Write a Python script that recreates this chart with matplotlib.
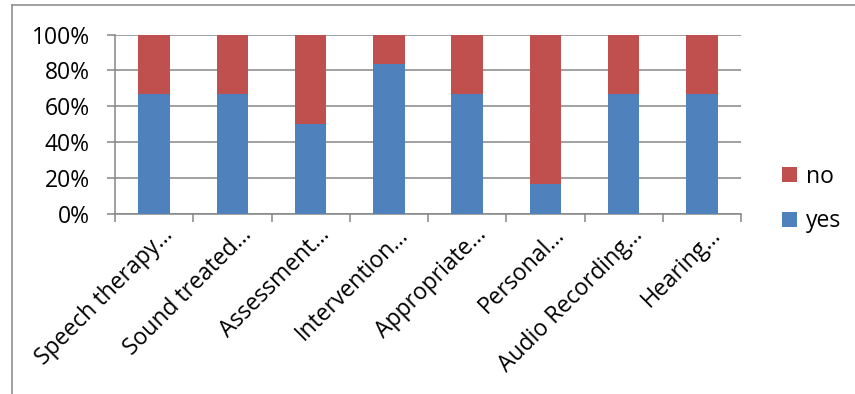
import numpy as np
import matplotlib.pyplot as plt
import matplotlib.transforms as mtransforms
from matplotlib.lines import Line2D

plt.rcParams['font.family'] = ['Open Sans', 'DejaVu Sans']

# survey answers per item (6 respondents)
categories = ["Speech therapy…", "Sound treated…", "Assessment…", "Intervention…",
              "Appropriate…", "Personal…", "Audio Recording…", "Hearing…"]
yes_counts = [4, 4, 3, 5, 4, 1, 4, 4]
no_counts = [2, 2, 3, 1, 2, 5, 2, 2]

yes_counts = np.array(yes_counts, dtype=float)
no_counts = np.array(no_counts, dtype=float)
total = yes_counts + no_counts
yes_pct = yes_counts / total * 100
no_pct = no_counts / total * 100

blue = "#4F81BD"
red = "#C0504D"
grid_gray = "#868686"
fs = 16.5

fig = plt.figure(figsize=(8.55, 3.94), dpi=100)
ax = fig.add_axes([0.1345, 0.4569, 0.7322, 0.4555])

x = np.arange(len(categories))
b_yes = ax.bar(x, yes_pct, width=0.4, color=blue, zorder=3)
b_no = ax.bar(x, no_pct, width=0.4, bottom=yes_pct, color=red, zorder=3)

ax.set_xlim(-0.5, len(categories) - 0.5)
ax.set_ylim(0, 100)

# y axis: percent ticks with gridlines
ax.set_yticks(np.arange(0, 101, 20))
ax.set_yticklabels([f"{v}%" for v in range(0, 101, 20)], fontsize=fs)
ax.yaxis.grid(True, color=grid_gray, linewidth=1.1, zorder=0)
ax.tick_params(axis='y', length=6, width=1.1, color=grid_gray, pad=12)

# x axis: labels at centres, tick marks between categories
ax.set_xticks(x)
ax.set_xticklabels(categories, fontsize=fs, rotation=45, ha='right',
                   rotation_mode='anchor')
ax.tick_params(axis='x', which='major', length=0, pad=8)
ax.set_xticks(np.arange(-0.5, len(categories)), minor=True)
ax.tick_params(axis='x', which='minor', length=6, width=1.1, color=grid_gray)

# nudge the slanted labels right so they end past the category centre
shift = mtransforms.ScaledTranslation(7 / 100, 2 / 100, fig.dpi_scale_trans)
for lab in ax.get_xticklabels():
    lab.set_transform(lab.get_transform() + shift)

for side in ['top', 'right']:
    ax.spines[side].set_visible(False)
for side in ['left', 'bottom']:
    ax.spines[side].set_color(grid_gray)
    ax.spines[side].set_linewidth(1.1)

fig.legend([b_no, b_yes], ["no", "yes"], loc='center left',
           bbox_to_anchor=(0.915, 0.495), frameon=False, fontsize=fs,
           handlelength=0.65, handleheight=0.65, handletextpad=0.4,
           labelspacing=0.9, borderpad=0, borderaxespad=0)

# chart area border
fig.add_artist(Line2D([12 / 855, 12 / 855], [0, 1 - 5 / 394], color=grid_gray, lw=1.1))
fig.add_artist(Line2D([12 / 855, 1], [1 - 5 / 394, 1 - 5 / 394], color=grid_gray, lw=1.1))

fig.savefig("out.png", dpi=100)
